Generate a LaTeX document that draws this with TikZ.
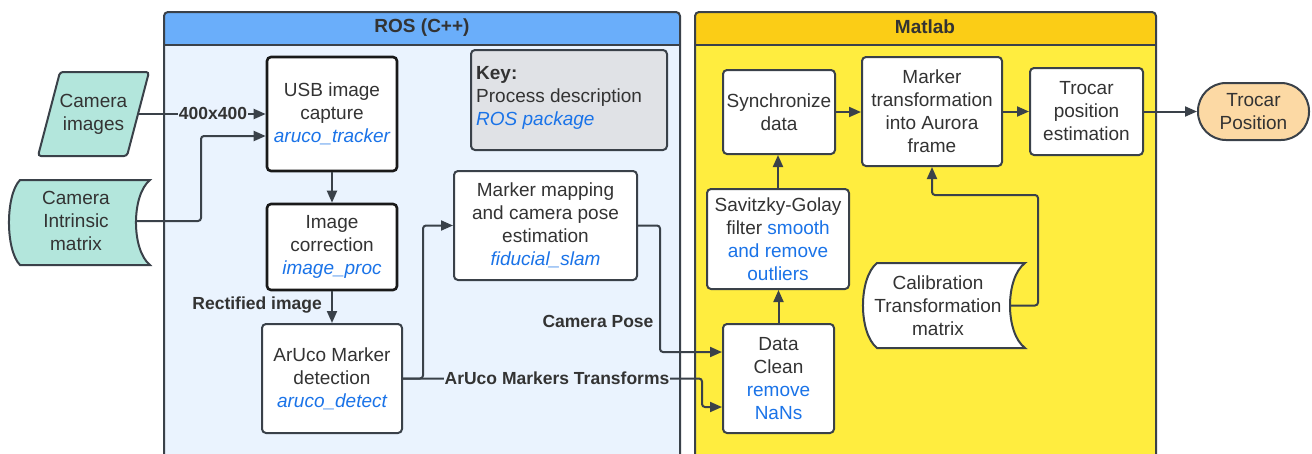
\documentclass[tikz,border=0pt]{standalone}
\usepackage{fontspec}
\setmainfont{Liberation Sans}
\usetikzlibrary{arrows.meta}
\definecolor{lc}{HTML}{3A4149}
\definecolor{txt}{HTML}{333333}
\definecolor{roshead}{HTML}{6AAEFA}
\definecolor{rosbody}{HTML}{EAF3FE}
\definecolor{mathead}{HTML}{FBCD16}
\definecolor{matbody}{HTML}{FFED3F}
\definecolor{teal}{HTML}{B3E6DC}
\definecolor{keyfill}{HTML}{E0E2E6}
\definecolor{orng}{HTML}{FCD9A4}
\definecolor{pkgblue}{HTML}{1A73E8}
\newcommand\bodyfont{\fontsize{19}{23}\selectfont}
\newcommand\lblfont{\fontsize{17.5}{21}\selectfont\bfseries}
\newcommand\headfont{\fontsize{19}{23}\selectfont\bfseries}
\newcommand\rospkg[1]{{\color{pkgblue}\itshape #1}}
\newcommand\bluetxt[1]{{\color{pkgblue}#1}}
\begin{document}
\begin{tikzpicture}[x=1pt,y=-1pt,
  box/.style={draw=lc, line width=2pt, rounded corners=4pt, fill=white, align=center, inner sep=0pt, text=txt, font=\bodyfont},
  bbox/.style={box, draw=black!90, line width=2.6pt},
  plain/.style={align=center, inner sep=0pt, text=txt, font=\bodyfont},
  shapeline/.style={draw=lc, line width=2pt},
  frameline/.style={draw=lc, line width=2pt},
  arr/.style={draw=lc, line width=2pt, -{Triangle[length=12pt,width=10pt]}, rounded corners=3pt},
  lbl/.style={font=\lblfont, text=txt, inner sep=1pt}]
\useasboundingbox (0,0) rectangle (1312,453);
\fill[white] (0,0) rectangle (1312,453);
% ROS frame
\fill[roshead, rounded corners=4pt] (164,12) rectangle (680,490);
\fill[rosbody] (164,45) rectangle (680,490);
\draw[frameline] (164,45) -- (680,45);
\draw[frameline, rounded corners=4pt] (164,12) rectangle (680,490);
\node[font=\headfont, text=txt, inner sep=0pt] (rost) at (422,28) {ROS (C++)};
% Matlab frame
\fill[mathead, rounded corners=4pt] (695,12) rectangle (1156,490);
\fill[matbody] (695,45) rectangle (1156,490);
\draw[frameline] (695,45) -- (1156,45);
\draw[frameline, rounded corners=4pt] (695,12) rectangle (1156,490);
\node[font=\headfont, text=txt, inner sep=0pt] (matt) at (925,27) {Matlab};
% shapes drawn directly
\draw[shapeline, fill=teal, rounded corners=3pt] (60,72) -- (149,72) -- (127,156) -- (38,156) -- cycle;
\draw[shapeline, fill=teal] (20,180) -- (150,180) .. controls (131.3,195) and (131.3,250) .. (150,265) -- (20,265) .. controls (5.3,250) and (5.3,195) .. (20,180) -- cycle;
\draw[shapeline, fill=white] (877,263) -- (1025,263) .. controls (1005,278) and (1005,333) .. (1025,348) -- (877,348) .. controls (858.3,333) and (858.3,278) .. (877,263) -- cycle;
% nodes
\node[plain, minimum width=111pt, minimum height=84pt] (camimg) at (93.5,114) {Camera\\images};
\node[plain, minimum width=148pt, minimum height=85pt] (cim) at (76,221) {Camera\\Intrinsic\\matrix};
\node[plain, minimum width=174pt, minimum height=85pt] (cal) at (938,305.5) {Calibration\\Transformation\\matrix};
\node[bbox, minimum width=130pt, minimum height=114pt] (usb) at (332,114) {USB image\\capture\\\rospkg{aruco\_tracker}};
\node[bbox, minimum width=130pt, minimum height=86pt] (imc) at (332,247) {Image\\correction\\\rospkg{image\_proc}};
\node[box, minimum width=140pt, minimum height=109pt] (aru) at (332,378.5) {ArUco Marker\\detection\\\rospkg{aruco\_detect}};
\node[box, minimum width=183pt, minimum height=109pt] (mm) at (545.5,225.5) {Marker mapping\\and camera pose\\estimation\\\rospkg{fiducial\_slam}};
\node[box, fill=keyfill, minimum width=196pt, minimum height=100pt] (key) at (569,100) {};
\node[plain, anchor=west, align=left] (keytxt) at (476,98) {\textbf{Key:}\\Process description\\\rospkg{ROS package}};
\node[box, minimum width=111pt, minimum height=109pt] (dc) at (778.5,378.5) {Data\\Clean\\\bluetxt{remove}\\\bluetxt{NaNs}};
\node[box, minimum width=142pt, minimum height=100pt] (sg) at (778,239) {Savitzky-Golay\\filter \bluetxt{smooth}\\\bluetxt{and remove}\\\bluetxt{outliers}};
\node[box, minimum width=112pt, minimum height=84pt] (sync) at (779,112) {Synchronize\\data};
\node[box, minimum width=140pt, minimum height=109pt] (mt) at (932,111.5) {Marker\\transformation\\into Aurora\\frame};
\node[box, minimum width=113pt, minimum height=87pt] (tpe) at (1086.5,111.5) {Trocar\\position\\estimation};
\node[box, fill=orng, rounded corners=28pt, minimum width=111pt, minimum height=57pt] (tp) at (1253.5,111.5) {Trocar\\Position};
% connectors
\draw[arr] ([xshift=-11pt]camimg.east) -- (usb.west);
\draw[arr] ([xshift=-14pt]cim.east) -| (201,136) -- (usb.west |- 0,136);
\draw[arr] (usb.south) -- (imc.north);
\draw[arr] (imc.south) -- (aru.north);
\draw[arr] (aru.east) -- (423,378.5) |- (mm.west);
\draw[arr] (aru.east) -- (702,378.5) |- (dc.west |- 0,407);
\draw[arr] (mm.east) -- (660,225.5) |- (dc.west |- 0,352);
\draw[arr] (dc.north) -- (dc.north |- sg.south);
\draw[arr] (sg.north) -- (sg.north |- sync.south);
\draw[arr] (sync.east) -- (mt.west |- sync.east);
\draw[arr] (mt.east) -- (tpe.west);
\draw[arr] (tpe.east) -- (tp.west);
\draw[arr] ([xshift=-15pt]cal.east) -- (1038,305.5) |- (932,195) -- (mt.south);
% labels
\node[lbl, fill=rosbody] (l400) at (213,113) {400x400};
\node[lbl, anchor=east] (lrect) at (323,305) {Rectified image};
\node[lbl, fill=rosbody] (lamt) at (557,378) {ArUco Markers Transforms};
\node[lbl] (lcp) at (598,321) {Camera Pose};
\end{tikzpicture}
\end{document}
